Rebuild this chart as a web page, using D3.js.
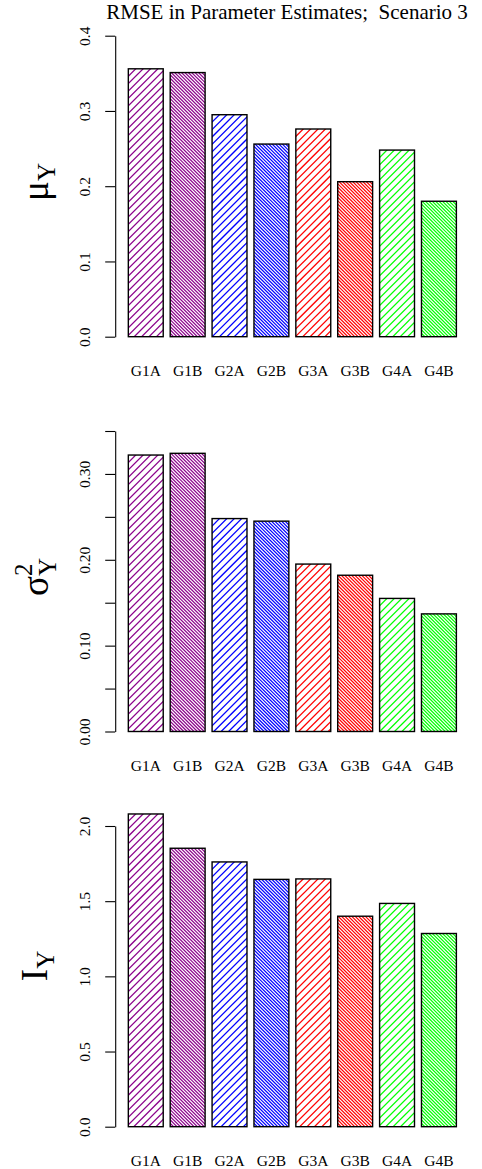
<!DOCTYPE html>
<html>
<head>
<meta charset="utf-8">
<script src="https://cdn.jsdelivr.net/npm/d3@7/dist/d3.min.js"></script>
<style>
  html, body { margin: 0; padding: 0; background: #fff; }
  svg { display: block; }
  text { font-family: "Liberation Serif", "Times New Roman", Times, serif; fill: #000; }
</style>
</head>
<body>
<script>
// Groups along the x axis
const groups = ["G1A", "G1B", "G2A", "G2B", "G3A", "G3B", "G4A", "G4B"];
// Hatch colour for each group
const groupColors = ["#8B008B", "#8B008B", "#0000FF", "#0000FF", "#FF0000", "#FF0000", "#00FF00", "#00FF00"];
// Hatch style: A = sparse "/" lines, B = dense "\" lines
const hatchStyle = ["A", "B", "A", "B", "A", "B", "A", "B"];

// RMSE values per parameter
const muY     = [0.356, 0.351, 0.295, 0.256, 0.276, 0.206, 0.248, 0.180];
const sigma2Y = [0.322, 0.324, 0.248, 0.245, 0.195, 0.182, 0.155, 0.137];
const IY      = [2.080, 1.852, 1.761, 1.645, 1.648, 1.400, 1.485, 1.285];

// Axis ticks and the ticks that carry a label
const ticksMu     = [0, 0.1, 0.2, 0.3, 0.4];
const labelsMu    = ["0.0", "0.1", "0.2", "0.3", "0.4"];
const ticksSigma  = [0, 0.05, 0.10, 0.15, 0.20, 0.25, 0.30, 0.35];
const labelsSigma = ["0.00", "", "0.10", "", "0.20", "", "0.30", ""];
const ticksI      = [0, 0.5, 1.0, 1.5, 2.0];
const labelsI     = ["0.0", "0.5", "1.0", "1.5", "2.0"];

const titleText = "RMSE in Parameter Estimates;  Scenario 3";

const W = 482, H = 1169;
const svg = d3.select("body").append("svg").attr("width", W).attr("height", H);
const defs = svg.append("defs");

// Hatch line spacing (horizontal, px), direction and width
const hatchSpec = { A: { step: 7.4, dir: 1, lw: 1.25 }, B: { step: 3.4, dir: -1, lw: 1.2 } };

// Bar positions in barplot units: width 1, space 0.2
const x = d3.scaleLinear().domain([-0.176, 9.976]).range([115.2, 469.5]);
const barLeft = i => 0.2 + 1.2 * i;

const panels = [
  { values: muY, ticks: ticksMu, labels: labelsMu, y0: 336.7, y1: 35.7 },
  { values: sigma2Y, ticks: ticksSigma, labels: labelsSigma, y0: 731.5, y1: 431 },
  { values: IY, ticks: ticksI, labels: labelsI, y0: 1126.7, y1: 826 }
];

panels.forEach((pn, pi) => {
  const tmax = pn.ticks[pn.ticks.length - 1];
  const y = d3.scaleLinear().domain([0, tmax]).range([pn.y0, pn.y1]);
  const g = svg.append("g");

  pn.values.forEach((v, i) => {
    const bx = x(barLeft(i)), bw = x(barLeft(i) + 1) - bx;
    const by = y(v), bh = y(0) - y(v);
    const id = `clip-${pi}-${i}`;
    defs.append("clipPath").attr("id", id)
      .append("rect").attr("x", bx).attr("y", by).attr("width", bw).attr("height", bh);

    // Diagonal shading lines clipped to the bar
    const spec = hatchSpec[hatchStyle[i]];
    const hg = g.append("g").attr("clip-path", `url(#${id})`);
    const offsets = d3.range(-bh - spec.step, bw + spec.step, spec.step);
    hg.selectAll("line").data(offsets).join("line")
      .attr("x1", o => spec.dir > 0 ? bx + o : bx + o)
      .attr("y1", y(0))
      .attr("x2", o => spec.dir > 0 ? bx + o + bh + 2 : bx + o - bh - 2)
      .attr("y2", by - 2)
      .attr("transform", spec.dir > 0 ? null : `translate(${bh},0)`)
      .attr("stroke", groupColors[i])
      .attr("stroke-width", spec.lw);

    // Bar outline
    g.append("rect")
      .attr("x", bx).attr("y", by).attr("width", bw).attr("height", bh)
      .attr("fill", "none").attr("stroke", "#000").attr("stroke-width", 1.4);
  });

  // Category labels
  g.selectAll("text.cat").data(groups).join("text")
    .attr("class", "cat")
    .attr("x", (d, i) => x(barLeft(i) + 0.5))
    .attr("y", pn.y0 + 39)
    .attr("text-anchor", "middle")
    .attr("font-size", 15.5)
    .text(d => d);

  // Y axis
  const axis = d3.axisLeft(y).tickValues(pn.ticks).tickSize(10).tickSizeOuter(0)
    .tickFormat((d, i) => pn.labels[i]);
  const ax = g.append("g").attr("transform", "translate(115.2,0)").call(axis);
  ax.select(".domain").attr("stroke", "#000").attr("stroke-width", 1.1);
  ax.selectAll(".tick line").attr("stroke", "#000").attr("stroke-width", 1.1);
  ax.selectAll(".tick text")
    .attr("transform", "rotate(-90)")
    .attr("x", 0).attr("y", -25).attr("dy", null)
    .attr("text-anchor", "middle")
    .attr("font-size", 15.5)
    .attr("font-family", "Liberation Serif, Times New Roman, serif")
    .attr("fill", "#000");
});

// Y axis titles
function yTitle(cx, cy) {
  return svg.append("text")
    .attr("transform", `translate(${cx},${cy}) rotate(-90)`)
    .attr("text-anchor", "middle");
}
const tMu = yTitle(48, 182);
tMu.append("tspan").attr("font-size", 37).text("μ");
tMu.append("tspan").attr("font-size", 25).attr("dy", 7).text("Y");

const tSig = yTitle(48, 577);
tSig.append("tspan").attr("font-size", 37).text("σ");
tSig.append("tspan").attr("font-size", 25).attr("dy", -16).text("2");
tSig.append("tspan").attr("font-size", 25).attr("dx", -12.5).attr("dy", 24).text("Y");

const tI = yTitle(47, 966);
tI.append("tspan").attr("font-size", 37).text("I");
tI.append("tspan").attr("font-size", 25).attr("dy", 7).text("Y");

// Title
svg.append("text")
  .attr("x", 287).attr("y", 19)
  .attr("text-anchor", "middle")
  .attr("font-size", 21)
  .style("white-space", "pre")
  .attr("xml:space", "preserve")
  .text(titleText);
</script>
</body>
</html>
